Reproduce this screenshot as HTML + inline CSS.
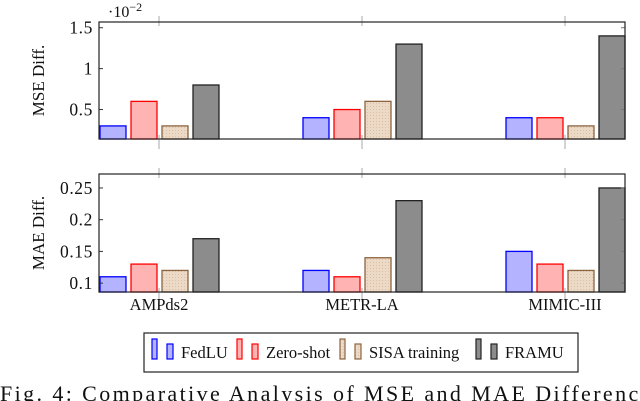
<!DOCTYPE html>
<html><head><meta charset="utf-8"><style>
body{margin:0;background:#fff;width:640px;height:401px;overflow:hidden}
svg{display:block;font-family:"Liberation Serif",serif}
</style></head><body>
<svg id="c" width="640" height="401">
<defs><pattern id="dots" width="3" height="3" patternUnits="userSpaceOnUse"><rect width="3" height="3" fill="#ecd9c6"/><circle cx="1.5" cy="1.5" r="0.5" fill="#d4b89c"/></pattern></defs>
</svg>
<script>
const categories=["AMPds2","METR-LA","MIMIC-III"];
const seriesNames=["FedLU","Zero-shot","SISA training","FRAMU"];
const mseFedLU=[0.3,0.4,0.4];
const mseZero=[0.6,0.5,0.4];
const mseSISA=[0.3,0.6,0.3];
const mseFRAMU=[0.8,1.3,1.4];
const maeFedLU=[0.11,0.12,0.15];
const maeZero=[0.13,0.11,0.13];
const maeSISA=[0.12,0.14,0.12];
const maeFRAMU=[0.17,0.23,0.25];
const mseTicks=[0.5,1,1.5];
const maeTicks=[0.1,0.15,0.2,0.25];
const mseTickLabels=["0.5","1","1.5"];
const maeTickLabels=["0.1","0.15","0.2","0.25"];

const svg=document.getElementById('c');
const NS="http://www.w3.org/2000/svg";
function mk(tag,attrs,parent){const e=document.createElementNS(NS,tag);for(const k in attrs)e.setAttribute(k,attrs[k]);(parent||svg).appendChild(e);return e;}
const styles=[{fill:"#b3b3ff",stroke:"#0000ff"},{fill:"#ffb3b3",stroke:"#ff0000"},{fill:"url(#dots)",stroke:"#8b6440"},{fill:"#8c8c8c",stroke:"#222"}];
const X0=99,X1=625;
const catX=i=>159+i*203;
const offsets=[-46,-15,16,47];
const bw=26;

function panel(name,top,bot,ymin,ymax,series,ticks,labels,title){
  const g=mk('g',{});
  
  
  const y=v=>bot-(v-ymin)/(ymax-ymin)*(bot-top);
  categories.forEach((c,i)=>{
    mk('line',{x1:catX(i),x2:catX(i),y1:top-6,y2:top+4,stroke:"#aaa","stroke-width":1},g);
    mk('line',{x1:catX(i),x2:catX(i),y1:bot-4,y2:bot+10,stroke:"#aaa","stroke-width":1},g);
  });
  series.forEach((vals,s)=>{
    vals.forEach((v,i)=>{
      const yy=y(v);
      const r=mk('rect',{x:catX(i)+offsets[s]-bw/2,y:yy,width:bw,height:bot-yy,fill:styles[s].fill,stroke:styles[s].stroke,"stroke-width":1.3},g);
      
      
    });
  });
  ticks.forEach((t,i)=>{
    const yy=y(t);
    mk('line',{x1:X0,x2:X0+4,y1:yy,y2:yy,stroke:"#333"},g);
    mk('line',{x1:X1-4,x2:X1,y1:yy,y2:yy,stroke:"#777"},g);
    const tx=mk('text',{x:X0-6,y:yy+6,"text-anchor":"end","font-size":17.5,"letter-spacing":0.6,fill:"#111"},g);
    tx.textContent=labels[i];
    
    
  });
  mk('rect',{x:X0,y:top,width:X1-X0,height:bot-top,fill:"none",stroke:"#222","stroke-width":1.2},g);
  const yt=mk('text',{x:0,y:0,transform:`translate(44,${(top+bot)/2}) rotate(-90)`,"text-anchor":"middle","font-size":17,fill:"#111"},g);
  yt.textContent=title;
  
  
}
panel('mse-panel',22,139,0.14,1.57,[mseFedLU,mseZero,mseSISA,mseFRAMU],mseTicks,mseTickLabels,"MSE Diff.");
panel('mae-panel',174,292,0.086,0.272,[maeFedLU,maeZero,maeSISA,maeFRAMU],maeTicks,maeTickLabels,"MAE Diff.");

const sc=mk('text',{x:108,y:17,"font-size":16,fill:"#111"});
sc.innerHTML='·10<tspan dy="-6" font-size="12">−2</tspan>';



categories.forEach((c,i)=>{
  const t=mk('text',{x:catX(i),y:310,"text-anchor":"middle","font-size":16.5,fill:"#111"});
  t.textContent=c;
  
  
});

const lg=mk('g',{});


mk('rect',{x:144,y:333,width:434,height:39,fill:"#fff",stroke:"#222","stroke-width":1.2},lg);
const legX=[152,237,340,476];
seriesNames.forEach((n,s)=>{
  const e=mk('g',{},lg);
  
  
  const x=legX[s];
  mk('rect',{x:x,y:339,width:5,height:20,fill:styles[s].fill,stroke:styles[s].stroke,"stroke-width":1.2},e);
  mk('rect',{x:x+15,y:344,width:6,height:15,fill:styles[s].fill,stroke:styles[s].stroke,"stroke-width":1.2},e);
  const t=mk('text',{x:x+29,y:358,"font-size":16.5,fill:"#111"},e);
  t.textContent=n;
});

const cap=mk('text',{x:0,y:401,"font-size":22,"letter-spacing":2.4,fill:"#111"});
cap.textContent="Fig. 4: Comparative Analysis of MSE and MAE Differences";


</script>
</body></html>
